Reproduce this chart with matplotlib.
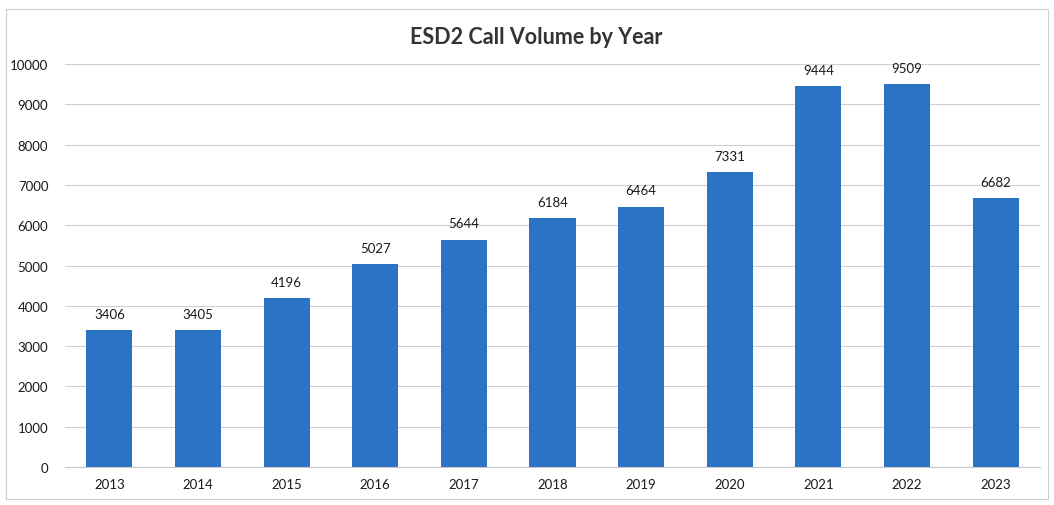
import matplotlib.pyplot as plt
from matplotlib.patches import Rectangle

years = ["2013", "2014", "2015", "2016", "2017", "2018",
         "2019", "2020", "2021", "2022", "2023"]
calls = [3406, 3405, 4196, 5027, 5644, 6184, 6464, 7331, 9444, 9509, 6682]
y_ticks = list(range(0, 10001, 1000))

plt.rcParams["font.family"] = ["Lato", "DejaVu Sans"]

fig = plt.figure(figsize=(10.54, 5.06), dpi=100)
ax = fig.add_axes([0.0617, 0.0751, 0.925, 0.7964])

# faint scan border round the chart
fig.patches.append(Rectangle((0.006, 0.012), 0.988, 0.968, transform=fig.transFigure,
                             fill=False, edgecolor="#cfcfcf", linewidth=0.8))

x = range(len(years))
bars = ax.bar(x, calls, width=0.52, color="#2c73c6", zorder=2)
for b, v in zip(bars, calls):
    ax.text(b.get_x() + b.get_width() / 2, v + 250, str(v),
            ha="center", va="bottom", fontsize=9.5, color="#1a1a1a")

ax.set_xlim(-0.5, len(years) - 0.5)
ax.set_ylim(0, 10000)
ax.set_yticks(y_ticks)
ax.set_xticks(list(x))
ax.set_xticklabels(years)
ax.tick_params(axis="both", length=0, labelsize=9.5, colors="#1a1a1a")
ax.tick_params(axis="y", pad=12)
ax.tick_params(axis="x", pad=8)
ax.yaxis.grid(True, color="#d0d0d0", linewidth=0.8, zorder=0)
for s in ["top", "right", "left"]:
    ax.spines[s].set_visible(False)
ax.spines["bottom"].set_color("#c8c8c8")

fig.text(0.509, 0.925, "ESD2 Call Volume by Year", ha="center", va="center",
         fontsize=15.5, fontweight="bold", color="#333333")

fig.savefig("out.png", dpi=100)
